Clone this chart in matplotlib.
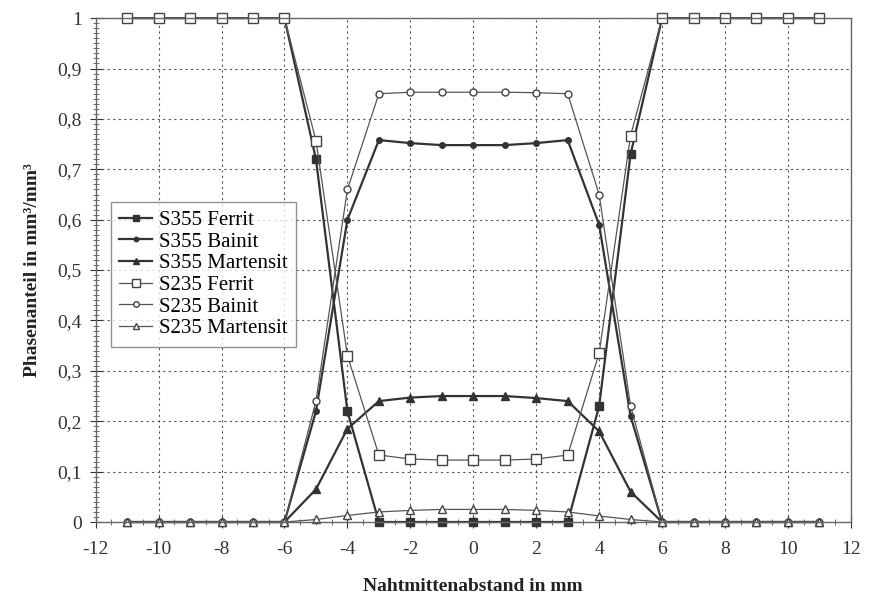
import numpy as np
import matplotlib.pyplot as plt
from matplotlib.ticker import MultipleLocator, FuncFormatter

# Positions (mm)
x = list(range(-11, 12))

# Phasenanteile
s355_ferrit = [1, 1, 1, 1, 1, 1, 0.72, 0.22, 0, 0, 0, 0, 0, 0, 0, 0.23, 0.73, 1, 1, 1, 1, 1, 1]
s355_bainit = [0, 0, 0, 0, 0, 0, 0.22, 0.60, 0.758, 0.752, 0.748, 0.748, 0.748, 0.752, 0.758, 0.59, 0.21, 0, 0, 0, 0, 0, 0]
s355_martensit = [0, 0, 0, 0, 0, 0, 0.065, 0.185, 0.24, 0.247, 0.25, 0.25, 0.25, 0.246, 0.24, 0.18, 0.06, 0, 0, 0, 0, 0, 0]
s235_ferrit = [1, 1, 1, 1, 1, 1, 0.757, 0.33, 0.133, 0.125, 0.123, 0.123, 0.123, 0.125, 0.133, 0.335, 0.767, 1, 1, 1, 1, 1, 1]
s235_bainit = [0, 0, 0, 0, 0, 0, 0.24, 0.66, 0.85, 0.853, 0.853, 0.853, 0.853, 0.852, 0.85, 0.65, 0.23, 0, 0, 0, 0, 0, 0]
s235_martensit = [0, 0, 0, 0, 0, 0, 0.005, 0.013, 0.02, 0.023, 0.025, 0.025, 0.025, 0.023, 0.02, 0.012, 0.005, 0, 0, 0, 0, 0, 0]

plt.rcParams['font.family'] = ['Liberation Serif', 'DejaVu Serif']
plt.rcParams['axes.unicode_minus'] = False

fig = plt.figure(figsize=(8.7, 5.97), dpi=100)
ax = fig.add_axes([0.110, 0.1256, 0.868, 0.844])

dark = '#333333'
ax.plot(x, s355_ferrit, color=dark, lw=1.6, marker='s', ms=5.5, label='S355 Ferrit', clip_on=False)
ax.plot(x, s355_bainit, color=dark, lw=1.6, marker='o', ms=4, label='S355 Bainit', clip_on=False)
ax.plot(x, s355_martensit, color=dark, lw=1.6, marker='^', ms=5.5, label='S355 Martensit', clip_on=False)
ax.plot(x, s235_ferrit, color='#555555', lw=0.9, marker='s', ms=6.5, mfc='white', mec='#444444', label='S235 Ferrit', clip_on=False)
ax.plot(x, s235_bainit, color='#555555', lw=0.9, marker='o', ms=5, mfc='white', mec='#444444', label='S235 Bainit', clip_on=False)
ax.plot(x, s235_martensit, color='#555555', lw=0.9, marker='^', ms=6, mfc='white', mec='#444444', label='S235 Martensit', clip_on=False)

ax.set_xlim(-12, 12)
ax.set_ylim(0, 1)
ax.xaxis.set_major_locator(MultipleLocator(2))
ax.xaxis.set_minor_locator(MultipleLocator(0.5))
ax.yaxis.set_major_locator(MultipleLocator(0.1))
ax.yaxis.set_minor_locator(MultipleLocator(0.01))
ax.yaxis.set_major_formatter(FuncFormatter(lambda v, p: ('%g' % round(v, 1)).replace('.', ',')))
ax.tick_params(which='major', direction='inout', length=8, labelsize=14, colors='#333333')
ax.tick_params(which='minor', direction='inout', length=4, colors='#555555')
ax.tick_params(axis='x', pad=10)
ax.tick_params(axis='y', pad=6)

ax.grid(True, which='major', linestyle=(0, (2, 3)), color='#555555', lw=0.8)
for s in ax.spines.values():
    s.set_color('#666666')
    s.set_linewidth(1.0)

ax.set_xlabel('Nahtmittenabstand in mm', fontsize=14, fontweight='bold', color='#222222', labelpad=14)
ax.set_ylabel('Phasenanteil in mm³/mm³', fontsize=14, fontweight='bold', color='#222222', labelpad=12)

leg = ax.legend(loc='upper left', bbox_to_anchor=(0.02, 0.635), fontsize=15, frameon=True,
                fancybox=False, edgecolor='#777777', handlelength=1.6, handletextpad=0.3,
                labelspacing=0.1, borderpad=0.4, borderaxespad=0, markerscale=0.8)
leg.get_frame().set_linewidth(1.0)

plt.savefig('out.png', dpi=100)
